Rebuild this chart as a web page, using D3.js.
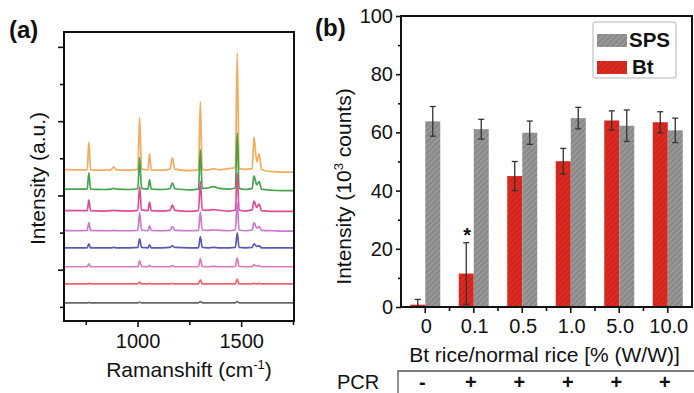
<!DOCTYPE html>
<html>
<head>
<meta charset="utf-8">
<script src="https://cdn.jsdelivr.net/npm/d3@7"></script>
<style>
  body { margin: 0; background: #fff; }
  svg { display: block; font-family: "Liberation Sans", Arial, Helvetica, sans-serif; }
</style>
</head>
<body>
<script>
// ---- panel (a): Raman spectra, sampled at these shifts (cm-1)
const shifts = [645, 700, 757, 765, 773, 840, 872, 885, 898, 960, 1001, 1010, 1019, 1050, 1058, 1066,
  1120, 1156, 1168, 1180, 1250, 1294, 1303, 1312, 1340, 1365, 1395, 1440, 1472, 1481, 1490, 1520,
  1553, 1562, 1575, 1587, 1598, 1650, 1700, 1755];

// stacking offset of each trace (a.u.), top trace first
const traceNames = ['orange', 'green', 'magenta', 'violet', 'blue', 'pink', 'red', 'black'];
const traceOffsets = [46.6, 41.5, 35.8, 30.5, 25.9, 20.8, 16.2, 11.1];
const traceColors = ['#f2a24e', '#2f9a36', '#d93a8c', '#c56ac9', '#4848a8', '#de6ab6', '#f2525a', '#555555'];

// intensity above own baseline (a.u.)
const orange  = [0.4,0.3,0.3,7.8,0.3,0.2,0.3,1.1,0.3,0.2,0.4,14.5,0.5,0.3,4.6,0.3,0.2,0.5,3.5,0.5,0.1,0.3,18.6,0.4,0.2,0.6,0.3,0.6,1.0,31.8,0.6,0.4,0.6,9.2,2.5,4.6,0.4,-0.2,-0.3,-0.3];
const green   = [0.2,0.2,0.2,4.6,0.2,0.1,0.2,0.4,0.2,0.1,0.3,8.6,0.4,0.2,2.7,0.2,0.1,0.3,1.9,0.3,0.0,0.2,10.8,0.4,0.5,0.9,0.4,0.2,0.5,15.3,0.4,0.1,0.4,3.8,1.4,2.2,0.2,-0.1,-0.2,-0.2];
const magenta = [0.1,0.1,0.1,3.0,0.1,0.0,0.1,0.2,0.1,0.0,0.2,6.5,0.3,0.1,2.4,0.1,0.0,0.2,1.6,0.2,-0.1,0.1,8.0,0.3,0.2,0.4,0.2,0.0,0.3,10.2,0.3,0.0,0.3,2.7,1.0,1.9,0.1,-0.1,-0.1,-0.1];
const violet  = [0.1,0.0,0.1,2.2,0.1,0.0,0.0,0.1,0.0,0.0,0.1,4.8,0.2,0.0,1.3,0.1,0.0,0.1,1.1,0.1,0.0,0.1,5.1,0.2,0.1,0.2,0.1,0.0,0.2,7.5,0.2,0.0,0.2,2.2,0.7,1.1,0.1,0.0,-0.1,-0.1];
const blue    = [0.0,0.0,0.0,1.1,0.0,0.0,0.0,0.1,0.0,0.0,0.1,2.4,0.1,0.0,0.8,0.0,0.0,0.1,0.5,0.1,0.0,0.0,3.0,0.1,0.0,0.1,0.0,0.0,0.1,4.0,0.1,0.0,0.1,1.1,0.4,0.5,0.0,0.0,0.0,0.0];
const pink    = [0.0,0.0,0.0,0.8,0.0,0.0,0.0,0.0,0.0,0.0,0.0,1.6,0.1,0.0,0.4,0.0,0.0,0.0,0.3,0.0,0.0,0.0,2.2,0.1,0.0,0.1,0.0,0.0,0.1,2.4,0.1,0.0,0.0,0.5,0.2,0.3,0.0,0.0,0.0,0.0];
const red     = [0.0,0.0,0.0,0.15,0.0,0.0,0.0,0.0,0.0,0.0,0.0,0.5,0.0,0.0,0.1,0.0,0.0,0.0,0.1,0.0,0.0,0.0,1.1,0.0,0.0,0.0,0.0,0.0,0.0,1.3,0.0,0.0,0.0,0.15,0.0,0.1,0.0,0.0,0.0,0.0];
const black   = [0.0,0.0,0.0,0.05,0.0,0.0,0.0,0.0,0.0,0.0,0.0,0.15,0.0,0.0,0.0,0.0,0.0,0.0,0.0,0.0,0.0,0.0,0.3,0.0,0.0,0.0,0.0,0.0,0.0,0.3,0.0,0.0,0.0,0.0,0.0,0.0,0.0,0.0,0.0,0.0];
const traces = [orange, green, magenta, violet, blue, pink, red, black];

const ramanTicks = [750, 1000, 1250, 1500, 1750];
const ramanTickLabels = ['', '1000', '', '1500', ''];
const auTicks = [10, 20, 30, 40, 50, 60, 70, 80];

// ---- panel (b): SERS intensity (10^3 counts)
const ratios = ['0', '0.1', '0.5', '1.0', '5.0', '10.0'];
const pcr = ['-', '+', '+', '+', '+', '+'];
const btMean = [0.8, 11.5, 45.0, 50.1, 64.1, 63.5];
const btErr  = [1.8, 10.6, 5.0, 4.4, 3.3, 3.6];
const spsMean = [63.8, 61.1, 59.9, 64.9, 62.3, 60.7];
const spsErr  = [5.1, 3.4, 4.0, 3.7, 5.4, 4.2];

const width = 694;
const height = 393;

const svg = d3.select('body')
  .append('svg')
  .attr('width', width)
  .attr('height', height);

const defs = svg.append('defs');

// hatch patterns for the bars
function hatch(id, base, stripe) {
  const p = defs.append('pattern')
    .attr('id', id)
    .attr('patternUnits', 'userSpaceOnUse')
    .attr('width', 4)
    .attr('height', 4)
    .attr('patternTransform', 'rotate(45)');
  p.append('rect').attr('width', 4).attr('height', 4).attr('fill', base);
  p.append('rect').attr('width', 1.1).attr('height', 4).attr('fill', stripe);
}
hatch('hatch-sps', '#8a8a8a', '#a2a2a2');
hatch('hatch-bt', '#dc2a1f', '#c6211a');

// ================= panel (a) =================
const a = { left: 64, right: 294, top: 32, bottom: 321 };

const xa = d3.scaleLinear().domain([645, 1755]).range([a.left, a.right]);
const ya = d3.scaleLinear().domain([6.2, 84]).range([a.bottom, a.top]);

defs.append('clipPath').attr('id', 'clip-a')
  .append('rect')
  .attr('x', a.left).attr('y', a.top)
  .attr('width', a.right - a.left).attr('height', a.bottom - a.top);

const line = d3.line()
  .x((d) => xa(d[0]))
  .y((d) => ya(d[1]))
  .curve(d3.curveMonotoneX);

const gTraces = svg.append('g').attr('clip-path', 'url(#clip-a)');
traces.forEach((vals, i) => {
  gTraces.append('path')
    .datum(shifts.map((s, j) => [s, traceOffsets[i] + vals[j]]))
    .attr('class', 'trace ' + traceNames[i])
    .attr('fill', 'none')
    .attr('stroke', traceColors[i])
    .attr('stroke-width', 1.7)
    .attr('stroke-opacity', 0.9)
    .attr('d', line);
});

// x axis (a)
const axA = svg.append('g')
  .attr('transform', `translate(0,${a.bottom})`)
  .call(d3.axisBottom(xa).tickValues(ramanTicks).tickFormat((d, i) => ramanTickLabels[i]).tickSizeOuter(0));
axA.select('.domain').remove();
axA.selectAll('.tick line').attr('stroke', '#111').attr('stroke-width', 1.6)
  .attr('y2', (d, i) => (ramanTickLabels[i] ? 6 : 4));
axA.selectAll('.tick text').attr('font-size', 20).attr('fill', '#111').attr('y', 13)
  .attr('font-family', 'inherit');

// y axis (a), no labels
const ayA = svg.append('g')
  .attr('transform', `translate(${a.left},0)`)
  .call(d3.axisLeft(ya).tickValues(auTicks).tickFormat('').tickSizeOuter(0));
ayA.select('.domain').remove();
ayA.selectAll('.tick line').attr('stroke', '#111').attr('stroke-width', 1.6)
  .attr('x2', (d) => (d % 20 === 0 ? -6 : -4));

svg.append('rect')
  .attr('x', a.left).attr('y', a.top)
  .attr('width', a.right - a.left).attr('height', a.bottom - a.top)
  .attr('fill', 'none').attr('stroke', '#111').attr('stroke-width', 2);

svg.append('text')
  .attr('x', (a.left + a.right) / 2 + 10).attr('y', 377)
  .attr('text-anchor', 'middle').attr('font-size', 21).attr('fill', '#111')
  .text('Ramanshift (cm')
  .call((t) => {
    t.append('tspan').attr('dy', -8).attr('font-size', 13).text('-1');
    t.append('tspan').attr('dy', 8).text(')');
  });

svg.append('text')
  .attr('transform', `translate(45,${(a.top + a.bottom) / 2 + 2}) rotate(-90)`)
  .attr('text-anchor', 'middle').attr('font-size', 21).attr('fill', '#111')
  .text('Intensity (a.u.)');

svg.append('text')
  .attr('x', 9).attr('y', 38)
  .attr('font-size', 24).attr('font-weight', 'bold').attr('fill', '#111')
  .text('(a)');

// ================= panel (b) =================
const b = { left: 401, right: 692, top: 16, bottom: 307 };

const xb = d3.scaleBand().domain(ratios).range([b.left, b.right]);
const xs = d3.scaleBand().domain(['Bt', 'SPS'])
  .range([xb.bandwidth() / 2 - 15, xb.bandwidth() / 2 + 15]);
const yb = d3.scaleLinear().domain([0, 100]).range([b.bottom, b.top]);

const rows = ratios.map((r, i) => ({
  ratio: r,
  bars: [
    { key: 'Bt', mean: btMean[i], err: btErr[i] },
    { key: 'SPS', mean: spsMean[i], err: spsErr[i] },
  ],
}));

const groups = svg.append('g')
  .selectAll('g')
  .data(rows)
  .enter()
  .append('g')
  .attr('transform', (d) => `translate(${xb(d.ratio)},0)`);

groups.selectAll('rect')
  .data((d) => d.bars)
  .enter()
  .append('rect')
  .attr('x', (d) => xs(d.key))
  .attr('y', (d) => yb(d.mean))
  .attr('width', xs.bandwidth())
  .attr('height', (d) => yb(0) - yb(d.mean))
  .attr('fill', (d) => (d.key === 'Bt' ? 'url(#hatch-bt)' : 'url(#hatch-sps)'));

// error bars
const eb = groups.selectAll('g.err')
  .data((d) => d.bars)
  .enter()
  .append('g')
  .attr('class', 'err')
  .attr('stroke', '#333')
  .attr('stroke-width', 1.3);
eb.append('line')
  .attr('x1', (d) => xs(d.key) + xs.bandwidth() / 2)
  .attr('x2', (d) => xs(d.key) + xs.bandwidth() / 2)
  .attr('y1', (d) => yb(Math.max(0, d.mean - d.err)))
  .attr('y2', (d) => yb(d.mean + d.err));
[1, -1].forEach((sgn) => {
  eb.filter((d) => sgn > 0 || d.mean - d.err > 0)
    .append('line')
    .attr('x1', (d) => xs(d.key) + xs.bandwidth() / 2 - 3)
    .attr('x2', (d) => xs(d.key) + xs.bandwidth() / 2 + 3)
    .attr('y1', (d) => yb(d.mean + sgn * d.err))
    .attr('y2', (d) => yb(d.mean + sgn * d.err));
});

// significance mark on 0.1 %
svg.append('text')
  .attr('x', xb('0.1') + xs('Bt') + xs.bandwidth() / 2 + 1)
  .attr('y', yb(btMean[1] + btErr[1]) - 1)
  .attr('text-anchor', 'middle').attr('font-size', 20).attr('font-weight', 'bold').attr('fill', '#111')
  .text('*');

// x axis (b): major ticks at categories, minor at the gaps
const axB = svg.append('g').attr('transform', `translate(0,${b.bottom})`);
axB.selectAll('line.major')
  .data(ratios)
  .enter()
  .append('line')
  .attr('x1', (d) => xb(d) + xb.bandwidth() / 2)
  .attr('x2', (d) => xb(d) + xb.bandwidth() / 2)
  .attr('y1', 0).attr('y2', 6)
  .attr('stroke', '#111').attr('stroke-width', 1.6);
axB.selectAll('line.minor')
  .data(ratios.slice(1))
  .enter()
  .append('line')
  .attr('x1', (d) => xb(d))
  .attr('x2', (d) => xb(d))
  .attr('y1', 0).attr('y2', 4)
  .attr('stroke', '#111').attr('stroke-width', 1.6);
axB.selectAll('text')
  .data(ratios)
  .enter()
  .append('text')
  .attr('x', (d) => xb(d) + xb.bandwidth() / 2 + 1)
  .attr('y', 26)
  .attr('text-anchor', 'middle').attr('font-size', 20).attr('fill', '#111')
  .text((d) => d);

// y axis (b)
const ayB = svg.append('g')
  .attr('transform', `translate(${b.left},0)`)
  .call(d3.axisLeft(yb).tickValues(d3.range(0, 101, 10)).tickFormat((d) => (d % 20 === 0 ? d : '')).tickSizeOuter(0));
ayB.select('.domain').remove();
ayB.selectAll('.tick line').attr('stroke', '#111').attr('stroke-width', 1.6)
  .attr('x2', (d) => (d % 20 === 0 ? -5 : -3));
ayB.selectAll('.tick text').attr('font-size', 20).attr('fill', '#111').attr('x', -8)
  .attr('font-family', 'inherit');

svg.append('rect')
  .attr('x', b.left).attr('y', b.top)
  .attr('width', b.right - b.left).attr('height', b.bottom - b.top)
  .attr('fill', 'none').attr('stroke', '#111').attr('stroke-width', 2);

// legend
const lg = svg.append('g').attr('transform', 'translate(593,22)');
lg.append('rect')
  .attr('width', 83).attr('height', 56).attr('rx', 2)
  .attr('fill', '#fff').attr('stroke', '#b5b5b5').attr('stroke-width', 1);
[['SPS', 'url(#hatch-sps)'], ['Bt', 'url(#hatch-bt)']].forEach(([name, fill], i) => {
  lg.append('rect')
    .attr('x', 4).attr('y', 12 + i * 27)
    .attr('width', 30).attr('height', 13)
    .attr('fill', fill);
  lg.append('text')
    .attr('x', 36 + i * 3).attr('y', 25 + i * 27)
    .attr('font-size', 20.5).attr('font-weight', 'bold').attr('fill', '#111')
    .text(name);
});

svg.append('text')
  .attr('transform', `translate(351,${(b.top + b.bottom) / 2 + 25}) rotate(-90)`)
  .attr('text-anchor', 'middle').attr('font-size', 21).attr('fill', '#111')
  .text('Intensity (10')
  .call((t) => {
    t.append('tspan').attr('dy', -8).attr('font-size', 13).text('3');
    t.append('tspan').attr('dy', 8).text(' counts)');
  });

svg.append('text')
  .attr('x', (b.left + b.right) / 2 - 2).attr('y', 362)
  .attr('text-anchor', 'middle').attr('font-size', 21).attr('fill', '#111')
  .text('Bt rice/normal rice [% (W/W)]');

svg.append('text')
  .attr('x', 315).attr('y', 36)
  .attr('font-size', 24).attr('font-weight', 'bold').attr('fill', '#111')
  .text('(b)');

// PCR row
svg.append('text')
  .attr('x', 337).attr('y', 389)
  .attr('font-size', 20).attr('fill', '#111')
  .text('PCR');
svg.append('path')
  .attr('d', `M398,${height}V371H${width}`)
  .attr('fill', 'none').attr('stroke', '#555').attr('stroke-width', 1.3);
svg.selectAll('text.pcr')
  .data(pcr)
  .enter()
  .append('text')
  .attr('class', 'pcr')
  .attr('x', (d, i) => xb(ratios[i]) + xb.bandwidth() / 2 - 3)
  .attr('y', 389)
  .attr('text-anchor', 'middle').attr('font-size', 20).attr('font-weight', 'bold').attr('fill', '#111')
  .text((d) => d);
</script>
</body>
</html>
